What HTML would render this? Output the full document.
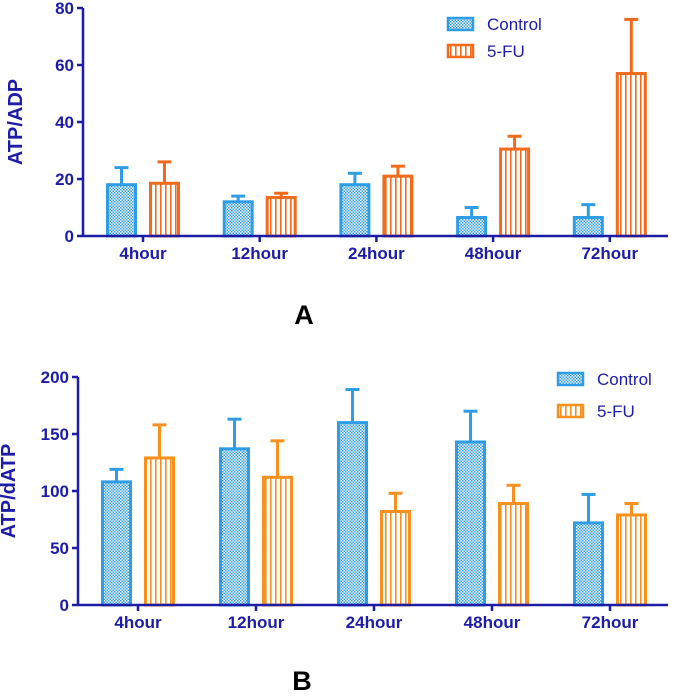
<!DOCTYPE html>
<html><head><meta charset="utf-8"><style>
body{margin:0;background:#fff;width:675px;height:693px;overflow:hidden}
svg text{font-family:"Liberation Sans",Arial,sans-serif}
</style></head><body>
<svg id="c" width="675" height="693" xmlns="http://www.w3.org/2000/svg">
<defs>
<pattern id="chk" width="3" height="3" patternUnits="userSpaceOnUse"><rect width="3" height="3" fill="#fff"/><rect width="1.5" height="1.5" fill="#2e9de6"/><rect x="1.5" y="1.5" width="1.5" height="1.5" fill="#2e9de6"/></pattern>
<pattern id="vlA" width="5" height="5" patternUnits="userSpaceOnUse"><rect width="5" height="5" fill="#fff"/><rect width="1.6" height="5" fill="#f26a1b"/></pattern>
<pattern id="vlB" width="5" height="5" patternUnits="userSpaceOnUse"><rect width="5" height="5" fill="#fff"/><rect width="1.6" height="5" fill="#f7901e"/></pattern>
</defs>
</svg>
<script>
const categories=["4hour","12hour","24hour","48hour","72hour"];
const aControl=[18,12,18,6.5,6.5];
const aControlErr=[24,14,22,10,11];
const aFU=[18.5,13.5,21,30.5,57];
const aFUErr=[26,15,24.5,35,76];
const aTicks=[0,20,40,60,80];
const bControl=[108,137,160,143,72];
const bControlErr=[119,163,189,170,97];
const bFU=[129,112,82,89,79];
const bFUErr=[158,144,98,105,89];
const bTicks=[0,50,100,150,200];
const NS="http://www.w3.org/2000/svg";
const svg=document.getElementById('c');
const navy="#1c1ca6";
function el(t,a,p){const e=document.createElementNS(NS,t);for(const k in a)e.setAttribute(k,a[k]);(p||svg).appendChild(e);return e;}
function chart(o){
 const g=el('g',{});
 
 
 const y=v=>o.y0-(v/o.max)*(o.y0-o.yTop);
 const x=i=>o.x0+i*o.step;
 [[o.c,o.ce,'url(#chk)','#2e9de6',-1,'control'],[o.f,o.fe,o.fpat,o.fcol,1,'5fu']].forEach(s=>{
  s[0].forEach((v,i)=>{
   const cx=x(i)+s[4]*o.off, w=28;
   const ln=el('line',{x1:cx,x2:cx,y1:y(v),y2:y(s[1][i]),stroke:s[3],'stroke-width':3},g);
   
   
   const cap=el('line',{x1:cx-7,x2:cx+7,y1:y(s[1][i]),y2:y(s[1][i]),stroke:s[3],'stroke-width':3},g);
   
   
   const r=el('rect',{x:cx-w/2,y:y(v),width:w,height:o.y0-y(v),fill:s[2],stroke:s[3],'stroke-width':3},g);
   
   
  });
 });
 const ya=el('line',{x1:o.ax,x2:o.ax,y1:o.yTop,y2:o.y0,stroke:navy,'stroke-width':2.5},g);
 
 const xa=el('line',{x1:o.ax,x2:668,y1:o.y0,y2:o.y0,stroke:navy,'stroke-width':2.5},g);
 
 o.ticks.forEach(t=>{
  el('line',{x1:o.ax-6,x2:o.ax,y1:y(t),y2:y(t),stroke:navy,'stroke-width':2.5},g);
  const tx=el('text',{x:o.ax-9,y:y(t)+6,'text-anchor':'end','font-size':17,'font-weight':'bold',fill:navy},g);
  tx.textContent=t;
  
 });
 categories.forEach((c,i)=>{
  el('line',{x1:x(i),x2:x(i),y1:o.y0,y2:o.y0+6,stroke:navy,'stroke-width':2.5},g);
  const tx=el('text',{x:x(i),y:o.y0+23,'text-anchor':'middle','font-size':17,'font-weight':'bold',fill:navy},g);
  tx.textContent=c;
  
 });
 const yt=el('text',{x:0,y:0,transform:`translate(${o.titleX},${(o.y0+o.yTop)/2}) rotate(-90)`,'text-anchor':'middle','font-size':20,'font-weight':'bold',fill:navy},g);
 yt.textContent=o.title;
 
 [['Control','url(#chk)','#2e9de6',0],['5-FU',o.fpat,o.fcol,1]].forEach(l=>{
  const ly=o.legY+l[3]*o.legDy;
  const r=el('rect',{x:o.legX,y:ly,width:25,height:12,fill:l[1],stroke:l[2],'stroke-width':2.5},g);
  
  const t=el('text',{x:o.legX+39,y:ly+12,'font-size':17,fill:navy},g);
  t.textContent=l[0];
  
 });
 const p=el('text',{x:o.panelX,y:o.panelY,'text-anchor':'middle','font-size':27,'font-weight':'bold',fill:'#000'},g);
 p.textContent=o.panel;
 
}
chart({name:'chart-a',c:aControl,ce:aControlErr,f:aFU,fe:aFUErr,ticks:aTicks,max:80,y0:236,yTop:8,ax:83,x0:143,step:116.7,off:21.5,fpat:'url(#vlA)',fcol:'#f26a1b',title:'ATP/ADP',titleX:22,legX:448,legY:18,legDy:27,panel:'A',panelX:304,panelY:324});
chart({name:'chart-b',c:bControl,ce:bControlErr,f:bFU,fe:bFUErr,ticks:bTicks,max:200,y0:605,yTop:377,ax:78,x0:138,step:118,off:21.5,fpat:'url(#vlB)',fcol:'#f7901e',title:'ATP/dATP',titleX:15,legX:558,legY:373,legDy:32,panel:'B',panelX:302,panelY:690});
</script>
</body></html>
